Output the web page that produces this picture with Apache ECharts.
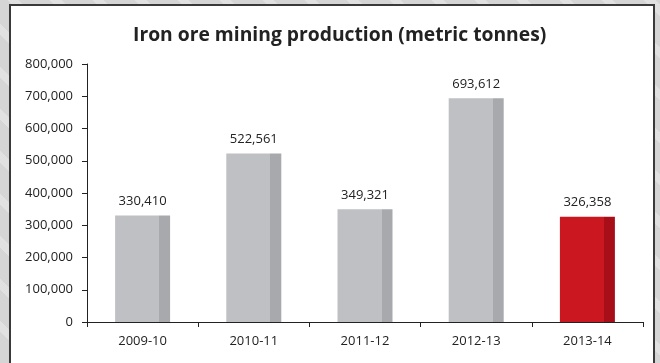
<!DOCTYPE html>
<html>
<head>
<meta charset="utf-8">
<script src="https://cdn.jsdelivr.net/npm/echarts@6/dist/echarts.min.js"></script>
<style>
html,body{margin:0;padding:0;}
body{width:660px;height:363px;overflow:hidden;
background:#d5d5d6;
background-image:repeating-linear-gradient(45deg, #d5d5d6 0px, #d5d5d6 22px, #e1e1e2 22px, #e1e1e2 30px);}
#c{width:660px;height:363px;}
</style>
</head>
<body>
<div id="c"></div>
<script>
const titleText = 'Iron ore mining production (metric tonnes)';
const categories = ['2009-10', '2010-11', '2011-12', '2012-13', '2013-14'];
const production = [330410, 522561, 349321, 693612, 326358];
const highlightIndex = 4;

function grad(front, side) {
  return new echarts.graphic.LinearGradient(0, 0, 1, 0, [
    {offset: 0, color: front}, {offset: 0.8, color: front},
    {offset: 0.8, color: side}, {offset: 1, color: side}
  ]);
}
const fmt = v => v.toLocaleString('en-US');
const FONT = '"Open Sans", "Noto Sans", sans-serif';

const chart = echarts.init(document.getElementById('c'), null, {renderer: 'canvas'});
chart.setOption({
  backgroundColor: 'transparent',
  animation: false,
  graphic: [{
    type: 'rect', z: -10, silent: true,
    shape: {x: 10, y: 5, width: 644, height: 400},
    style: {fill: '#ffffff', stroke: '#3a3a3a', lineWidth: 2}
  }],
  title: {
    text: titleText, left: 128, top: 21,
    textStyle: {fontFamily: FONT, fontSize: 19.3, fontWeight: 'bold', color: '#222222'}
  },
  grid: {left: 87, right: 17, top: 64, bottom: 41, containLabel: false},
  xAxis: {
    type: 'category', data: categories,
    axisLine: {lineStyle: {color: '#222222', width: 1}},
    axisTick: {show: true, length: 5, lineStyle: {color: '#222222'}},
    axisLabel: {margin: 13, color: '#222222', fontFamily: FONT, fontSize: 13}
  },
  yAxis: {
    type: 'value', min: 0, max: 800000, interval: 100000,
    splitLine: {show: false},
    axisLine: {show: true, lineStyle: {color: '#222222', width: 1}},
    axisTick: {show: true, length: 5, lineStyle: {color: '#222222'}},
    axisLabel: {margin: 14, color: '#222222', fontFamily: FONT, fontSize: 13, formatter: fmt}
  },
  series: [{
    type: 'bar', barWidth: 55,
    data: production.map((v, i) => ({
      value: v,
      itemStyle: {color: i === highlightIndex ? grad('#cb1720', '#a70e17') : grad('#bfc0c4', '#a8a9ad')}
    })),
    label: {show: true, position: 'top', distance: 8, color: '#222222',
      fontFamily: FONT, fontSize: 13, formatter: p => fmt(p.value)}
  }]
});
</script>
</body>
</html>
